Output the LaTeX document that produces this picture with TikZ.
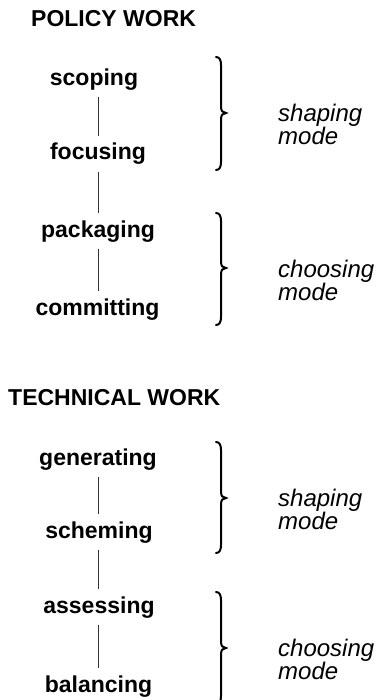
\documentclass[tikz,border=0pt]{standalone}
\usepackage{fontspec}
\setmainfont{Liberation Sans}
\begin{document}
\begin{tikzpicture}[x=1pt,y=-1pt,
  stage/.style={font=\fontsize{23}{23}\selectfont\bfseries, inner sep=0pt, anchor=base},
  heading/.style={font=\fontsize{23}{23}\selectfont\bfseries, inner sep=0pt, anchor=base west},
  modelabel/.style={font=\fontsize{24}{23}\selectfont\itshape, inner sep=0pt, anchor=north west, align=left},
  conn/.style={line width=0.8pt, black!80, shorten <=6.5pt, shorten >=7pt},
  bracepath/.style={line width=2pt, line cap=round}
]
\useasboundingbox (0,0) rectangle (381,700);
\clip (0,0) rectangle (381,700);
\newcommand{\modebrace}[3]{%
  \draw[bracepath] (216,#1) .. controls (219.5,#1) and (221,#1+3) .. (221,#1+8)
    -- (221,#2-6) .. controls (221,#2-2) and (223,#2) .. (226,#2)
    .. controls (223,#2) and (221,#2+2) .. (221,#2+6)
    -- (221,#3-8) .. controls (221,#3-3) and (219.5,#3) .. (216,#3);}

% ---------- POLICY WORK ----------
\node[heading] (h1) at (31,27) {POLICY WORK};
\node[stage] (scoping) at (94,85.5) {scoping};
\node[stage] (focusing) at (98,160) {focusing};
\node[stage] (packaging) at (98,237) {packaging};
\node[stage] (committing) at (97.5,315) {committing};
\draw[conn] (focusing.north |- scoping.south) -- (focusing.north);
\draw[conn] (focusing.south) -- (packaging.north);
\draw[conn] (packaging.south) -- (packaging.south |- committing.north);

\modebrace{57}{113}{170}
\node[modelabel] (m1) at (278,104) {shaping\\mode};
\modebrace{213}{268}{325}
\node[modelabel] (m2) at (278,259.5) {choosing\\mode};

% ---------- TECHNICAL WORK ----------
\node[heading] (h2) at (8,405) {TECHNICAL WORK};
\node[stage] (generating) at (98,465) {generating};
\node[stage] (scheming) at (99,538) {scheming};
\node[stage] (assessing) at (99,613) {assessing};
\node[stage] (balancing) at (98.5,692) {balancing};
\draw[conn] (generating.south) -- (generating.south |- scheming.north);
\draw[conn] (generating.south |- scheming.south) -- (generating.south |- assessing.north);
\draw[conn] (generating.south |- assessing.south) -- (generating.south |- balancing.north);

\modebrace{442}{498}{553}
\node[modelabel] (m3) at (278,488.5) {shaping\\mode};
\modebrace{592}{648}{704}
\node[modelabel] (m4) at (278,638.5) {choosing\\mode};
\end{tikzpicture}
\end{document}
